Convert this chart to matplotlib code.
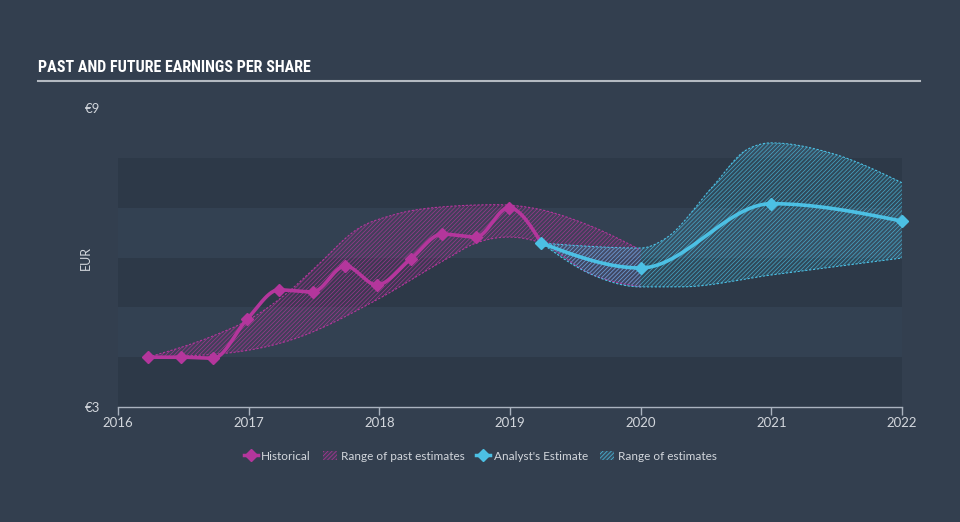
#!/usr/bin/env python3
"""Past and future earnings per share chart."""

import numpy as np
import matplotlib
matplotlib.use("Agg")
import matplotlib.pyplot as plt
from matplotlib.colors import to_rgba
from matplotlib.lines import Line2D
from matplotlib.patches import Patch

# --- data ------------------------------------------------------------------
hist_x = [2016.23, 2016.48, 2016.73, 2016.99, 2017.23, 2017.49, 2017.74,
          2017.98, 2018.24, 2018.48, 2018.74, 2018.99, 2019.24]
hist_y = [4.0, 4.0, 3.98, 4.77, 5.35, 5.31, 5.83, 5.45, 5.97, 6.47, 6.41, 7.0, 6.29]

est_x = [2019.24, 2020.0, 2021.0, 2022.0]
est_y = [6.29, 5.79, 7.08, 6.73]

past_hi_x = [2016.23, 2016.75, 2017.0, 2017.3, 2017.49, 2017.85, 2018.1,
             2018.5, 2018.9, 2019.2, 2019.6, 2020.0]
past_hi_y = [4.0, 4.45, 4.75, 5.3, 5.75, 6.6, 6.85, 7.02, 7.06, 6.98, 6.65, 6.15]
past_lo_x = [2016.23, 2016.83, 2017.33, 2017.98, 2018.5, 2018.74, 2018.99,
             2019.24, 2019.6, 2020.0]
past_lo_y = [4.0, 4.08, 4.35, 5.15, 5.95, 6.29, 6.41, 6.29, 5.69, 5.41]

fut_hi_x = [2019.24, 2020.0, 2020.2, 2020.55, 2020.81, 2021.0, 2021.45, 2022.0]
fut_hi_y = [6.29, 6.19, 6.4, 7.42, 8.16, 8.3, 8.1, 7.5]
fut_lo_x = [2019.24, 2019.6, 2020.0, 2020.3, 2021.0, 2022.0]
fut_lo_y = [6.29, 5.69, 5.41, 5.41, 5.65, 5.99]

year_ticks = [2016, 2017, 2018, 2019, 2020, 2021, 2022]
value_ticks = [3, 9]
value_labels = ["€3", "€9"]

BG = "#333f4f"
BAND_DARK = "#2d3948"
BAND_LIGHT = "#334152"
PINK = "#b4369c"
CYAN = "#4cc0e4"
TEXT = "#d2d6dc"
AXIS = "#aab3bf"
HATCH = "////////"


def monotone(xs, ys, n=30):
    """Monotone cubic (d3 curveMonotoneX style) through the given points."""
    x = np.asarray(xs, float)
    y = np.asarray(ys, float)
    h = np.diff(x)
    s = np.diff(y) / h
    m = np.zeros_like(x)
    for i in range(1, len(x) - 1):
        p = (s[i - 1] * h[i] + s[i] * h[i - 1]) / (h[i - 1] + h[i])
        m[i] = (np.sign(s[i - 1]) + np.sign(s[i])) * min(abs(s[i - 1]), abs(s[i]), 0.5 * abs(p))
    if len(x) > 2:
        m[0] = (3 * s[0] - m[1]) / 2
        m[-1] = (3 * s[-1] - m[-2]) / 2
    else:
        m[:] = s[0]
    out_x, out_y = [], []
    for i in range(len(h)):
        t = np.linspace(0, 1, n, endpoint=(i == len(h) - 1))
        h00 = 2 * t**3 - 3 * t**2 + 1
        h10 = t**3 - 2 * t**2 + t
        h01 = -2 * t**3 + 3 * t**2
        h11 = t**3 - t**2
        out_x.append(x[i] + t * h[i])
        out_y.append(h00 * y[i] + h10 * h[i] * m[i] + h01 * y[i + 1] + h11 * h[i] * m[i + 1])
    return np.concatenate(out_x), np.concatenate(out_y)


def draw_range(ax, hx, hy, lx, ly, color):
    ux, uy = monotone(hx, hy)
    bx, by = monotone(lx, ly)
    grid = np.linspace(max(ux[0], bx[0]), min(ux[-1], bx[-1]), 400)
    top = np.interp(grid, ux, uy)
    bot = np.interp(grid, bx, by)
    ax.fill_between(grid, bot, top, facecolor=to_rgba(color, 0.12),
                    edgecolor=to_rgba(color, 0.8), hatch=HATCH, linewidth=0, zorder=2)
    ax.plot(ux, uy, color=color, lw=0.8, ls=(0, (2, 1.5)), zorder=2.5)
    ax.plot(bx, by, color=color, lw=0.8, ls=(0, (2, 1.5)), zorder=2.5)


def main():
    plt.rcParams["hatch.linewidth"] = 0.5
    plt.rcParams["font.family"] = ["Lato", "DejaVu Sans"]

    fig = plt.figure(figsize=(9.6, 5.22), dpi=100, facecolor=BG)
    ax = fig.add_axes([118 / 960, 115 / 522, 784 / 960, 299 / 522])
    ax.set_facecolor(BG)
    ax.set_xlim(2016, 2022)
    ax.set_ylim(3, 9)

    for lo in range(3, 8):
        ax.axhspan(lo, lo + 1, color=BAND_DARK if (lo % 2 == 1) else BAND_LIGHT,
                   lw=0, zorder=0)

    draw_range(ax, past_hi_x, past_hi_y, past_lo_x, past_lo_y, PINK)
    draw_range(ax, fut_hi_x, fut_hi_y, fut_lo_x, fut_lo_y, CYAN)

    hx, hy = monotone(hist_x, hist_y)
    ax.plot(hx, hy, color=PINK, lw=2.6, zorder=4, solid_capstyle="round")
    ax.plot(hist_x[:-1], hist_y[:-1], ls="none", marker="D", ms=6.5, color=PINK, zorder=5)

    ex, ey = monotone(est_x, est_y)
    ax.plot(ex, ey, color=CYAN, lw=2.6, zorder=4, solid_capstyle="round")
    ax.plot(est_x, est_y, ls="none", marker="D", ms=6.5, color=CYAN, zorder=5, clip_on=False)

    for side in ("top", "right", "left"):
        ax.spines[side].set_visible(False)
    ax.spines["bottom"].set_color(AXIS)
    ax.spines["bottom"].set_linewidth(1.0)
    ax.set_xticks(year_ticks)
    ax.set_xticklabels([str(y) for y in year_ticks])
    ax.tick_params(axis="x", direction="out", length=6, width=1, color=AXIS,
                   labelcolor=TEXT, labelsize=9.5, pad=1)
    ax.set_yticks(value_ticks)
    ax.set_yticklabels(value_labels)
    ax.tick_params(axis="y", length=0, labelcolor=TEXT, labelsize=9.5, pad=13)

    fig.text(86 / 960, 1 - 258 / 522, "EUR", rotation=90, color=TEXT,
             fontsize=9, ha="center", va="center")

    fig.text(38 / 960, 1 - 67 / 522, "PAST AND FUTURE EARNINGS PER SHARE",
             color="white", fontsize=11.5, fontweight="bold", fontstretch="condensed",
             family=["Roboto Condensed", "Liberation Sans Narrow",
                     "DejaVu Sans Condensed", "DejaVu Sans"],
             ha="left", va="center")
    fig.add_artist(Line2D([38 / 960, 920 / 960], [1 - 81 / 522, 1 - 81 / 522],
                          color="#b4bac2", lw=1.5, transform=fig.transFigure))

    handles = [
        Line2D([], [], color=PINK, lw=2.5, marker="D", ms=6),
        Patch(facecolor=to_rgba(PINK, 0.12), edgecolor=PINK, hatch=HATCH, lw=0),
        Line2D([], [], color=CYAN, lw=2.5, marker="D", ms=6),
        Patch(facecolor=to_rgba(CYAN, 0.12), edgecolor=CYAN, hatch=HATCH, lw=0),
    ]
    labels = ["Historical", "Range of past estimates", "Analyst's Estimate", "Range of estimates"]
    fig.legend(handles, labels, loc="center", bbox_to_anchor=(0.5, 1 - 456 / 522),
               ncol=4, frameon=False, fontsize=8.5, labelcolor=TEXT,
               handlelength=1.2, handletextpad=0.3, columnspacing=1.0)

    fig.savefig("out.png", dpi=100, facecolor=BG)
    plt.close(fig)
    return 0


if __name__ == "__main__":
    raise SystemExit(main())
